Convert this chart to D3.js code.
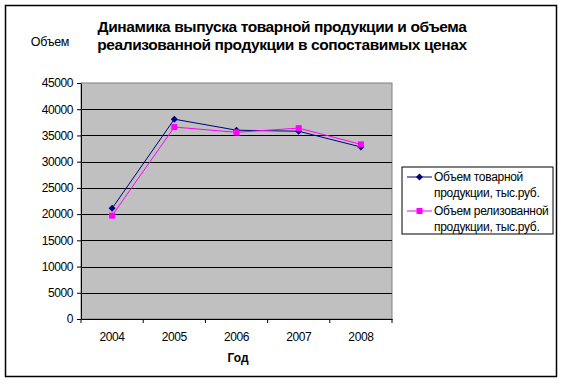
<!DOCTYPE html>
<html>
<head>
<meta charset="utf-8">
<script src="https://cdnjs.cloudflare.com/ajax/libs/d3/7.8.5/d3.min.js"></script>
<style>
  body { margin: 0; background: #fff; }
  text { font-family: "Liberation Sans", Arial, sans-serif; fill: #000; }
  .tick text { font-size: 12px; letter-spacing: -0.4px; }
</style>
</head>
<body>
<script>
//data
var years = ["2004", "2005", "2006", "2007", "2008"];
var tovarnaya = [21100, 38100, 36000, 35800, 32800];
var realizovannaya = [19700, 36600, 35600, 36400, 33300];
var yTicks = [0, 5000, 10000, 15000, 20000, 25000, 30000, 35000, 40000, 45000];
var titleLines = ["Динамика выпуска товарной продукции и объема",
                  "реализованной продукции в сопоставимых ценах"];
var legendLabels = [["Объем товарной", "продукции, тыс.руб."],
                    ["Объем релизованной", "продукции, тыс.руб."]];
var colors = ["#000080", "#ff00ff"];

var W = 563, H = 383;
var plot = {left: 81, right: 392, top: 83, bottom: 319};

var xScale = d3.scaleBand()
               .domain(years)
               .range([plot.left, plot.right])
               .padding(0);

var yScale = d3.scaleLinear()
               .domain([0, 45000])
               .range([plot.bottom, plot.top]);

var svg = d3.select("body").append("svg")
            .attr("width", W)
            .attr("height", H);

//outer frame
svg.append("rect")
   .attr("x", 5.5).attr("y", 5.5)
   .attr("width", 551).attr("height", 371)
   .attr("fill", "#fff")
   .attr("stroke", "#000")
   .attr("stroke-width", 1.5);

//plot background
svg.append("rect")
   .attr("x", plot.left).attr("y", plot.top)
   .attr("width", plot.right - plot.left)
   .attr("height", plot.bottom - plot.top)
   .attr("fill", "#c0c0c0")
   .attr("stroke", "#808080")
   .attr("stroke-width", 1);

//gridlines
svg.append("g")
   .selectAll("line")
   .data(yTicks.slice(1, -1))
   .enter()
   .append("line")
   .attr("x1", plot.left).attr("x2", plot.right)
   .attr("y1", function(d){ return Math.round(yScale(d)) + 0.5; })
   .attr("y2", function(d){ return Math.round(yScale(d)) + 0.5; })
   .attr("stroke", "#000")
   .attr("stroke-width", 1);

//y axis
var yAxis = d3.axisLeft(yScale)
              .tickValues(yTicks)
              .tickFormat(d3.format("d"))
              .tickSizeInner(4)
              .tickSizeOuter(0)
              .tickPadding(4);

svg.append("g")
   .attr("class", "yAxis")
   .attr("transform", "translate(" + plot.left + ",0)")
   .call(yAxis);

//x axis with ticks at category boundaries
var xAxis = d3.axisBottom(xScale)
              .tickSize(0)
              .tickPadding(13);

var gx = svg.append("g")
            .attr("class", "xAxis")
            .attr("transform", "translate(0," + plot.bottom + ")")
            .call(xAxis);

gx.selectAll(".boundary")
  .data(years.concat(["end"]))
  .enter()
  .append("line")
  .attr("class", "boundary")
  .attr("x1", function(d, i){ return plot.left + i * xScale.step(); })
  .attr("x2", function(d, i){ return plot.left + i * xScale.step(); })
  .attr("y1", 0).attr("y2", 4)
  .attr("stroke", "#000");

svg.selectAll(".domain").attr("stroke", "#000");
svg.selectAll(".tick line").attr("stroke", "#000");

//series lines and markers
var line = d3.line()
             .x(function(d, i){ return xScale(years[i]) + xScale.bandwidth() / 2; })
             .y(function(d){ return yScale(d); });

[tovarnaya, realizovannaya].forEach(function(series, s){
    svg.append("path")
       .attr("d", line(series))
       .attr("fill", "none")
       .attr("stroke", colors[s])
       .attr("stroke-width", 1);

    svg.append("g")
       .selectAll("path")
       .data(series)
       .enter()
       .append("path")
       .attr("transform", function(d, i){
           return "translate(" + (xScale(years[i]) + xScale.bandwidth() / 2) + "," + yScale(d) + ")";
       })
       .attr("d", s === 0 ? "M0,-3.5L3.5,0L0,3.5L-3.5,0Z" : "M-3,-3H3V3H-3Z")
       .attr("fill", colors[s]);
});

//title
svg.append("g")
   .selectAll("text")
   .data(titleLines)
   .enter()
   .append("text")
   .attr("x", 282)
   .attr("y", function(d, i){ return 32 + i * 18; })
   .attr("text-anchor", "middle")
   .style("font-size", "15.5px")
   .style("font-weight", "bold")
   .style("letter-spacing", "-0.4px")
   .text(function(d){ return d; });

//axis titles
svg.append("text")
   .attr("x", 50).attr("y", 46)
   .attr("text-anchor", "middle")
   .style("font-size", "12.5px")
   .style("letter-spacing", "-0.3px")
   .text("Объем");

svg.append("text")
   .attr("x", 238).attr("y", 362)
   .attr("text-anchor", "middle")
   .style("font-size", "12px")
   .style("font-weight", "bold")
   .text("Год");

//legend
var lg = svg.append("g").attr("transform", "translate(402,167)");

lg.append("rect")
  .attr("x", 0).attr("y", 0)
  .attr("width", 151).attr("height", 67)
  .attr("fill", "#fff")
  .attr("stroke", "#000")
  .attr("stroke-width", 1);

legendLabels.forEach(function(lbl, s){
    var y0 = 10 + s * 34;
    lg.append("line")
      .attr("x1", 5).attr("x2", 30)
      .attr("y1", y0).attr("y2", y0)
      .attr("stroke", colors[s]);
    lg.append("path")
      .attr("transform", "translate(17.5," + y0 + ")")
      .attr("d", s === 0 ? "M0,-3.5L3.5,0L0,3.5L-3.5,0Z" : "M-3,-3H3V3H-3Z")
      .attr("fill", colors[s]);
    lg.selectAll(".l" + s)
      .data(lbl)
      .enter()
      .append("text")
      .attr("x", 32)
      .attr("y", function(d, i){ return y0 + 4 + i * 16; })
      .style("font-size", "12px")
      .style("letter-spacing", "-0.3px")
      .text(function(d){ return d; });
});
</script>
</body>
</html>
